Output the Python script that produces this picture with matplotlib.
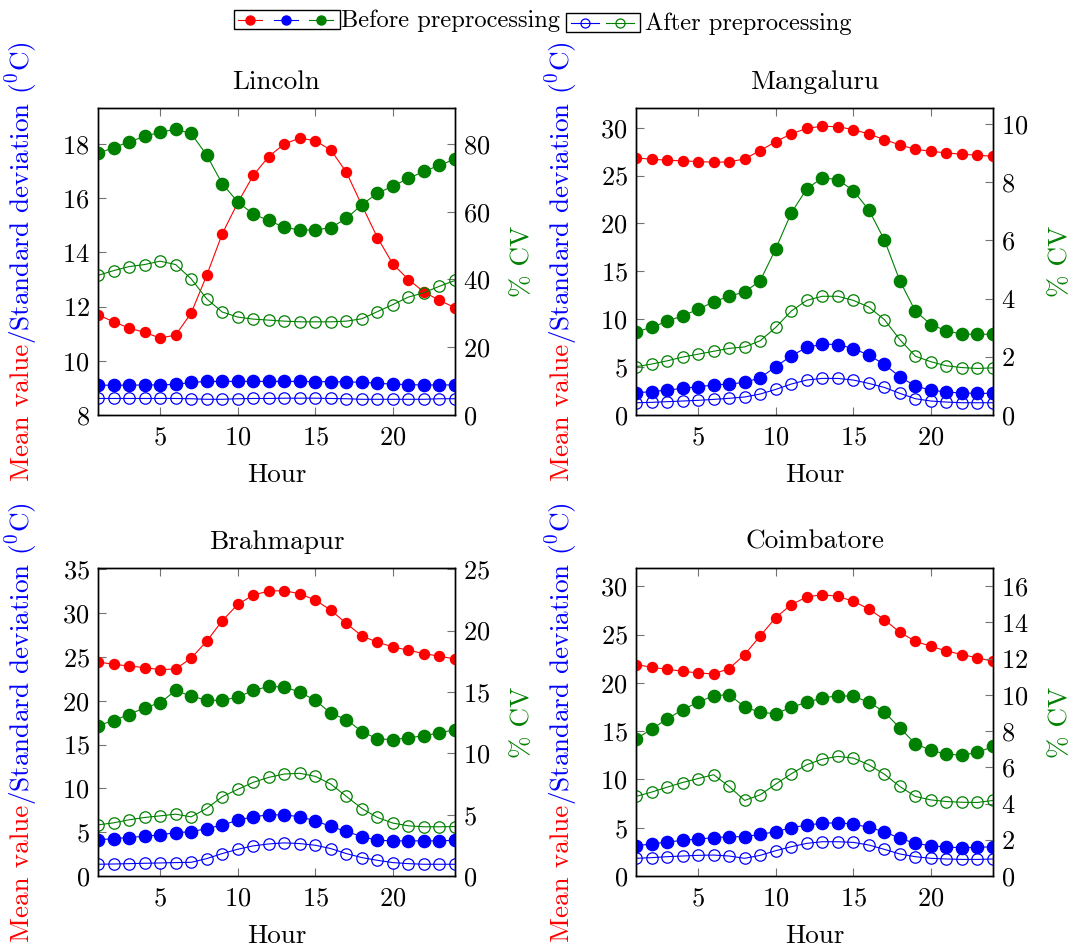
import matplotlib
matplotlib.use('Agg')
import matplotlib.pyplot as plt
from matplotlib.lines import Line2D
from matplotlib.patches import Rectangle
import numpy as np

plt.rcParams['font.family'] = ['cmr10', 'DejaVu Serif']
plt.rcParams['mathtext.fontset'] = 'cm'
plt.rcParams['axes.formatter.use_mathtext'] = True
plt.rcParams['font.size'] = 19

hours = np.arange(1, 25)
sites = ['Lincoln', 'Mangaluru', 'Brahmapur', 'Coimbatore']

# mean temperature (same before/after preprocessing)
mean_lincoln = [11.70, 11.44, 11.21, 11.05, 10.84, 10.95, 11.76, 13.15, 14.68, 15.83, 16.84, 17.54,
                18.00, 18.22, 18.12, 17.78, 16.96, 15.74, 14.55, 13.57, 13.00, 12.54, 12.23, 11.96]
mean_mangaluru = [26.84, 26.70, 26.60, 26.53, 26.46, 26.39, 26.42, 26.74, 27.60, 28.54, 29.34, 29.93,
                  30.14, 30.10, 29.79, 29.34, 28.75, 28.19, 27.74, 27.53, 27.36, 27.22, 27.12, 27.01]
mean_brahmapur = [24.43, 24.16, 23.97, 23.78, 23.55, 23.63, 24.85, 26.79, 29.12, 30.99, 32.06, 32.52,
                  32.56, 32.21, 31.49, 30.34, 28.82, 27.40, 26.68, 26.15, 25.76, 25.38, 25.08, 24.77]
mean_coimbatore = [21.90, 21.62, 21.41, 21.21, 21.03, 20.93, 21.48, 22.93, 24.86, 26.76, 28.10, 28.90,
                   29.14, 28.97, 28.45, 27.66, 26.55, 25.24, 24.31, 23.79, 23.31, 22.93, 22.59, 22.24]

# standard deviation before preprocessing
sd_before_lincoln = [9.10, 9.10, 9.10, 9.11, 9.11, 9.13, 9.20, 9.24, 9.24, 9.24, 9.24, 9.24,
                     9.24, 9.24, 9.23, 9.23, 9.22, 9.21, 9.17, 9.14, 9.12, 9.11, 9.11, 9.11]
sd_before_mangaluru = [2.33, 2.43, 2.60, 2.78, 2.95, 3.13, 3.23, 3.40, 3.89, 5.03, 6.18, 7.05,
                       7.40, 7.36, 6.94, 6.25, 5.28, 3.99, 3.02, 2.60, 2.40, 2.29, 2.26, 2.26]
sd_before_brahmapur = [4.12, 4.27, 4.39, 4.54, 4.69, 4.96, 5.04, 5.42, 5.80, 6.37, 6.76, 6.98,
                       6.98, 6.76, 6.30, 5.65, 5.08, 4.50, 4.08, 4.01, 4.01, 4.01, 4.01, 4.08]
sd_before_coimbatore = [3.14, 3.31, 3.52, 3.69, 3.83, 3.97, 4.07, 4.07, 4.31, 4.59, 5.00, 5.28,
                        5.45, 5.52, 5.38, 5.03, 4.59, 3.90, 3.38, 3.14, 3.00, 2.93, 2.97, 3.03]

# standard deviation after preprocessing
sd_after_lincoln = [8.61, 8.61, 8.61, 8.61, 8.61, 8.61, 8.60, 8.58, 8.58, 8.60, 8.61, 8.61,
                    8.62, 8.62, 8.62, 8.61, 8.60, 8.58, 8.58, 8.58, 8.58, 8.58, 8.60, 8.60]
sd_after_mangaluru = [1.28, 1.32, 1.39, 1.46, 1.53, 1.63, 1.74, 1.88, 2.19, 2.67, 3.23, 3.65,
                      3.82, 3.82, 3.65, 3.30, 2.88, 2.26, 1.70, 1.46, 1.35, 1.28, 1.28, 1.28]
sd_after_brahmapur = [1.34, 1.37, 1.41, 1.45, 1.49, 1.53, 1.56, 1.98, 2.56, 3.05, 3.44, 3.66,
                      3.78, 3.70, 3.51, 3.13, 2.56, 2.10, 1.79, 1.53, 1.41, 1.34, 1.34, 1.34]
sd_after_coimbatore = [1.83, 1.90, 2.00, 2.07, 2.14, 2.17, 2.07, 1.83, 2.14, 2.62, 3.03, 3.38,
                       3.55, 3.55, 3.48, 3.21, 2.76, 2.28, 2.00, 1.83, 1.76, 1.72, 1.72, 1.76]

# coefficient of variation (%) before preprocessing
cv_before_lincoln = [77.2, 78.9, 80.6, 82.2, 83.5, 84.3, 83.1, 76.7, 68.3, 62.9, 59.3, 57.4,
                     55.4, 54.6, 54.6, 55.3, 58.0, 62.1, 65.4, 67.6, 69.8, 71.9, 73.7, 75.5]
cv_before_mangaluru = [2.86, 3.01, 3.22, 3.41, 3.63, 3.89, 4.08, 4.23, 4.61, 5.71, 6.94, 7.77,
                       8.15, 8.09, 7.71, 7.05, 6.02, 4.61, 3.57, 3.11, 2.89, 2.78, 2.77, 2.78]
cv_before_brahmapur = [12.26, 12.67, 13.16, 13.71, 14.11, 15.12, 14.66, 14.33, 14.31, 14.58, 15.12, 15.45,
                       15.40, 14.99, 14.31, 13.27, 12.75, 11.77, 11.17, 11.12, 11.25, 11.44, 11.66, 11.93]
cv_before_coimbatore = [7.56, 8.11, 8.66, 9.18, 9.59, 9.95, 10.01, 9.33, 9.03, 8.96, 9.31, 9.59,
                        9.82, 9.95, 9.92, 9.60, 9.05, 8.17, 7.30, 6.93, 6.73, 6.67, 6.82, 7.15]

# coefficient of variation (%) after preprocessing
cv_after_lincoln = [41.2, 42.6, 43.8, 44.4, 45.4, 44.4, 40.2, 34.3, 30.4, 28.9, 28.3, 28.0,
                    27.7, 27.5, 27.5, 27.5, 27.7, 28.4, 30.5, 32.6, 34.8, 36.1, 38.0, 39.7]
cv_after_mangaluru = [1.66, 1.75, 1.86, 1.99, 2.09, 2.19, 2.29, 2.34, 2.55, 3.01, 3.57, 3.94,
                      4.08, 4.08, 3.94, 3.71, 3.28, 2.59, 2.02, 1.83, 1.69, 1.63, 1.60, 1.62]
cv_after_brahmapur = [4.17, 4.33, 4.58, 4.77, 4.90, 5.04, 4.82, 5.50, 6.46, 7.06, 7.63, 8.04,
                      8.31, 8.37, 8.12, 7.49, 6.49, 5.50, 4.77, 4.31, 4.09, 4.01, 4.01, 4.03]
cv_after_coimbatore = [4.39, 4.63, 4.90, 5.16, 5.38, 5.59, 4.94, 4.17, 4.48, 5.07, 5.64, 6.14,
                       6.45, 6.60, 6.51, 6.14, 5.62, 4.94, 4.39, 4.20, 4.11, 4.07, 4.06, 4.17]

means = [mean_lincoln, mean_mangaluru, mean_brahmapur, mean_coimbatore]
sd_before = [sd_before_lincoln, sd_before_mangaluru, sd_before_brahmapur, sd_before_coimbatore]
sd_after = [sd_after_lincoln, sd_after_mangaluru, sd_after_brahmapur, sd_after_coimbatore]
cv_before = [cv_before_lincoln, cv_before_mangaluru, cv_before_brahmapur, cv_before_coimbatore]
cv_after = [cv_after_lincoln, cv_after_mangaluru, cv_after_brahmapur, cv_after_coimbatore]

left_lims = [(8, 19.33), (0, 32.05), (0, 35.15), (0, 31.9)]
left_ticks = [np.arange(8, 19, 2), np.arange(0, 31, 5), np.arange(0, 36, 5), np.arange(0, 31, 5)]
right_lims = [(0, 90.6), (0, 10.55), (0, 25.1), (0, 17.0)]
right_ticks = [np.arange(0, 81, 20), np.arange(0, 11, 2), np.arange(0, 26, 5), np.arange(0, 17, 2)]

RED = (1, 0, 0)
BLUE = (0, 0, 1)
GREEN = (0, 0.5, 0)
TICK = '0.45'

W, H = 1076, 948
fig = plt.figure(figsize=(W / 100, H / 100), dpi=100)

# axes boxes in pixels: left, top, right, bottom
boxes = [(98, 108, 455, 415), (636, 108, 993, 415), (98, 568, 455, 876), (636, 568, 993, 876)]

def px_rect(b):
    l, t, r, bt = b
    return [l / W, 1 - bt / H, (r - l) / W, (bt - t) / H]

axes = []
for i, site in enumerate(sites):
    ax = fig.add_axes(px_rect(boxes[i]))
    ax2 = ax.twinx()
    ax.plot(hours, means[i], '-o', color=RED, lw=0.8, ms=7.2, zorder=3)
    ax.plot(hours, sd_before[i], '-o', color=BLUE, lw=0.8, ms=8.8, zorder=3)
    ax.plot(hours, sd_after[i], '-o', color=BLUE, lw=0.8, ms=8.2, mfc='none', mew=0.9, zorder=3)
    ax2.plot(hours, cv_before[i], '-o', color=GREEN, lw=0.8, ms=8.8)
    ax2.plot(hours, cv_after[i], '-o', color=GREEN, lw=0.8, ms=8.2, mfc='none', mew=0.9)

    ax.set_xlim(1, 24)
    ax.set_xticks([5, 10, 15, 20])
    ax.set_ylim(*left_lims[i])
    ax.set_yticks(left_ticks[i])
    ax2.set_ylim(*right_lims[i])
    ax2.set_yticks(right_ticks[i])

    ax.tick_params(axis='x', direction='in', top=True, length=6, color=TICK, pad=8)
    ax.tick_params(axis='y', direction='in', right=False, length=6, color=TICK, pad=6)
    ax2.tick_params(axis='y', direction='in', length=6, color=TICK, pad=6)
    for a in (ax, ax2):
        for s in a.spines.values():
            s.set_linewidth(1.0)

    ax.set_title(site, pad=14, fontsize=19.6)
    ax.set_xlabel('Hour', labelpad=10, fontsize=19.5)
    ax2.set_ylabel('% CV', color=GREEN, labelpad=14, fontsize=19.5)
    axes.append(ax)

fig.canvas.draw()
renderer = fig.canvas.get_renderer()

# two-colour rotated y label, centred on the axes box
label_x = [22, 562, 22, 562]
for ax, xp in zip(axes, label_x):
    bb = ax.get_window_extent(renderer)
    ycen = (bb.y0 + bb.y1) / 2
    parts = [('Mean value', RED), ('/Standard deviation ($^0$C)', BLUE)]
    texts = [fig.text(0, 0, s, color=c, rotation=90, rotation_mode='anchor',
                      ha='left', va='center', fontsize=19.6) for s, c in parts]
    lengths = [t.get_window_extent(renderer).height for t in texts]
    y = ycen - sum(lengths) / 2
    for t, L in zip(texts, lengths):
        t.set_position((xp / W, y / H))
        y += L

# legend: two boxes with marker samples, text beside them
def fx(x):
    return x / W

def fy(y):
    return 1 - y / H

fig.add_artist(Rectangle((fx(234), fy(29)), fx(340) - fx(234), fy(10) - fy(29),
                         transform=fig.transFigure, fill=False, lw=1.0, ec='black'))
for cx, c in zip([250, 286, 321], [RED, BLUE, GREEN]):
    fig.add_artist(Line2D([fx(cx - 12), fx(cx + 12)], [fy(19.5), fy(19.5)], color=c, lw=0.8,
                          transform=fig.transFigure))
    fig.add_artist(Line2D([fx(cx)], [fy(19.5)], marker='o', color=c, ms=6.5,
                          transform=fig.transFigure))
fig.text(fx(341), fy(21), 'Before preprocessing', ha='left', va='center', fontsize=17.6)

fig.add_artist(Rectangle((fx(566), fy(32)), fx(640) - fx(566), fy(13) - fy(32),
                         transform=fig.transFigure, fill=False, lw=1.0, ec='black'))
for cx, c in zip([585, 620], [BLUE, GREEN]):
    fig.add_artist(Line2D([fx(cx - 14), fx(cx + 14)], [fy(22.5), fy(22.5)], color=c, lw=0.8,
                          transform=fig.transFigure))
    fig.add_artist(Line2D([fx(cx)], [fy(22.5)], marker='o', color=c, ms=6.5, mfc='none', mew=0.9,
                          transform=fig.transFigure))
fig.text(fx(645), fy(24), 'After preprocessing', ha='left', va='center', fontsize=17.6)

fig.savefig('out.png', dpi=100)
